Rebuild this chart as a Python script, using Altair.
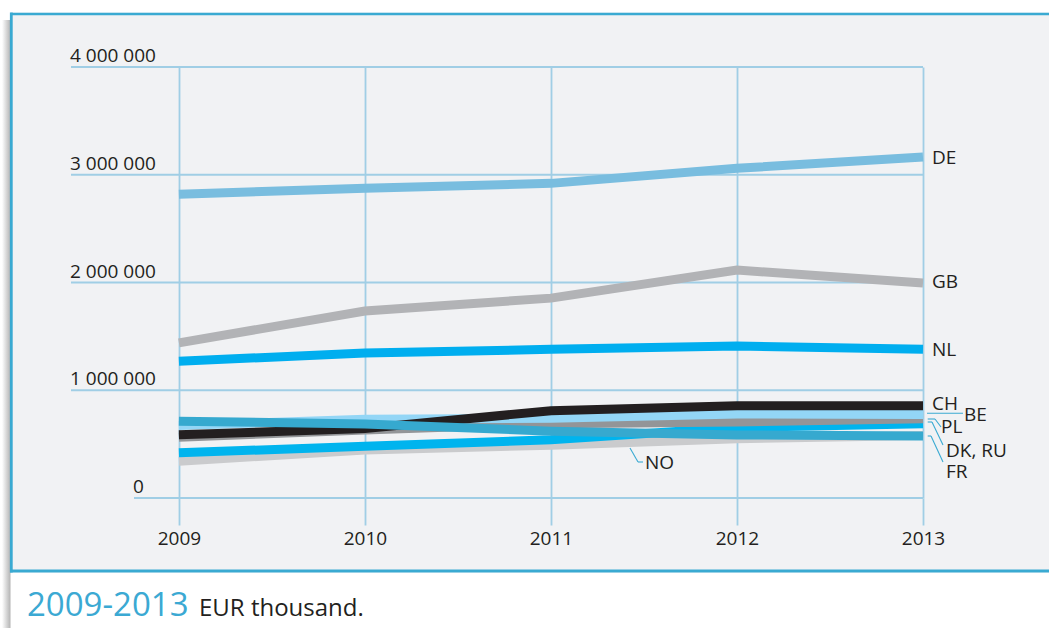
import altair as alt
import pandas as pd

# ---- data (EUR thousand) ----
years = [2009, 2010, 2011, 2012, 2013]

de = [2820000, 2875000, 2920000, 3060000, 3165000]
gb = [1440000, 1735000, 1855000, 2115000, 1995000]
nl = [1270000, 1345000, 1380000, 1410000, 1380000]
ch = [587000, 645000, 810000, 855000, 855000]
be = [673000, 730000, 740000, 780000, 775000]
pl = [564000, 630000, 690000, 705000, 735000]
dk_ru = [420000, 480000, 540000, 655000, 690000]
fr = [713000, 687000, 620000, 585000, 575000]
no = [342000, 445000, 490000, 550000, 580000]

# drawn back to front
series = ["NO", "DK, RU", "PL", "BE", "CH", "FR", "NL", "GB", "DE"]
series_values = [no, dk_ru, pl, be, ch, fr, nl, gb, de]
series_colors = ["#cacbcd", "#00b4ee", "#939598", "#93d6f6", "#231f20",
                 "#36a9cf", "#00aeef", "#b2b3b6", "#79bddf"]

y_ticks = [0, 1000000, 2000000, 3000000, 4000000]
y_tick_labels = ["0", "1 000 000", "2 000 000", "3 000 000", "4 000 000"]

# ---- styling ----
FONT = "Open Sans"
INK = "#231f20"
GRID = "#a0cee5"
FRAME = "#3aaad2"
PANEL = "#f1f2f4"
W, H = 852, 431
PAD = {"left": 71, "top": 67, "right": 126, "bottom": 130}

rows = []
for name, vals in zip(series, series_values):
    for yr, v in zip(years, vals):
        rows.append({"series": name, "year": yr, "value": v})
df = pd.DataFrame(rows)
ticks_df = pd.DataFrame({"value": y_ticks, "label": y_tick_labels})
one = pd.DataFrame({"k": [0]})

x_axis = alt.Axis(values=years, format="d", title=None, grid=True,
                  gridColor=GRID, gridWidth=1.8, domain=False, ticks=True,
                  tickSize=27, tickColor=GRID, tickWidth=1.8,
                  labelFont=FONT, labelFontSize=19, labelColor=INK,
                  labelPadding=4, labelFlush=False, labelOverlap=False)
x_enc = alt.X("year:Q", scale=alt.Scale(domain=[2008.42, 2013], nice=False, zero=False),
              axis=x_axis)
y_enc = alt.Y("value:Q", scale=alt.Scale(domain=[0, 4000000], nice=False), axis=None)


def box(x1, x2, y1, y2, fill):
    return alt.Chart(one).mark_rect(fill=fill).encode(
        x=alt.value(x1), x2=alt.value(x2), y=alt.value(y1), y2=alt.value(y2))


def seg(x1, y1, x2, y2, color=FRAME, width=1.2):
    # pixel offsets relative to the plot origin
    return alt.Chart(one).mark_rule(color=color, strokeWidth=width).encode(
        x=alt.value(x1), x2=alt.value(x2), y=alt.value(y1), y2=alt.value(y2))


layers = []

# white page around the framed panel, with a soft shadow on the left
right_edge = W + PAD["right"]
layers.append(box(-PAD["left"], right_edge, -PAD["top"], -54.4, "white"))
layers.append(box(-PAD["left"], -61, -PAD["top"], H + PAD["bottom"], "white"))
layers.append(box(-61, right_edge, 505.5, H + PAD["bottom"], "white"))
shadow = alt.LinearGradient(
    gradient="linear", x1=0, x2=1, y1=0, y2=0,
    stops=[alt.GradientStop(offset=0, color="#ffffff"),
           alt.GradientStop(offset=1, color="#b3b3b3")])
layers.append(alt.Chart(one).mark_rect(fill=shadow).encode(
    x=alt.value(-69), x2=alt.value(-60.5), y=alt.value(-47), y2=alt.value(H + PAD["bottom"])))
layers.append(seg(-59.7, -53, right_edge, -53, FRAME, 2.7))
layers.append(seg(-59.7, -54.4, -59.7, 505.5, FRAME, 2.8))
layers.append(seg(-61, 504, right_edge, 504, FRAME, 3))

# horizontal gridlines and their labels
layers.append(alt.Chart(ticks_df).transform_filter("datum.value > 0").mark_rule(
    color=GRID, strokeWidth=1.8).encode(y=y_enc, x=alt.value(0), x2=alt.value(W)))
layers.append(alt.Chart(ticks_df).transform_filter("datum.value == 0").mark_rule(
    color=GRID, strokeWidth=1.8).encode(y=y_enc, x=alt.value(63), x2=alt.value(W)))
tick_text = dict(align="left", baseline="alphabetic", dy=-5, font=FONT,
                 fontSize=19, color=INK)
layers.append(alt.Chart(ticks_df).transform_filter("datum.value > 0").mark_text(
    **tick_text).encode(y=y_enc, x=alt.value(-1), text="label:N"))
layers.append(alt.Chart(ticks_df).transform_filter("datum.value == 0").mark_text(
    **tick_text).encode(y=y_enc, x=alt.value(62), text="label:N"))

# country lines
for name, color in zip(series, series_colors):
    layers.append(alt.Chart(df).transform_filter(alt.datum.series == name).mark_line(
        color=color, strokeWidth=9, strokeCap="butt", strokeJoin="miter"
    ).encode(x=x_enc, y=y_enc))

# country labels (anchor year, dx, dy)
label_spec = [
    ("DE", 2013, 9, 1),
    ("GB", 2013, 9, -1),
    ("NL", 2013, 9, 1),
    ("CH", 2013, 9, -2),
    ("BE", 2013, 41, 1),
    ("PL", 2013, 18, 8.5),
    ("DK, RU", 2013, 23, 27),
    ("FR", 2013, 23, 36),
    ("NO", 2011, 94, 18),
]
for name, yr, dx, dy in label_spec:
    layers.append(alt.Chart(df).transform_filter(
        (alt.datum.series == name) & (alt.datum.year == yr)
    ).mark_text(align="left", baseline="middle", dx=dx, dy=dy, font=FONT,
                fontSize=19, color=INK).encode(x=x_enc, y=y_enc, text="series:N"))

# leader lines for the crowded labels
ox, oy = PAD["left"], PAD["top"]
leaders = [
    (927, 413.3, 963, 413.3),
    (927.7, 419, 935, 419), (935, 419, 941, 427),
    (927.7, 422, 932, 422), (932, 422, 943, 445),
    (927.7, 436, 931, 436), (931, 436, 943, 462),
    (630, 448, 638, 462), (638, 462, 643, 462),
]
for x1, y1, x2, y2 in leaders:
    layers.append(seg(x1 - ox, y1 - oy, x2 - ox, y2 - oy, FRAME, 1.1))

# caption under the panel
layers.append(alt.Chart(one).mark_text(
    align="left", baseline="alphabetic", font=FONT, fontSize=33, color="#3ba9d3"
).encode(x=alt.value(-44), y=alt.value(549), text=alt.value("2009-2013")))
layers.append(alt.Chart(one).mark_text(
    align="left", baseline="alphabetic", font=FONT, fontSize=24, color=INK
).encode(x=alt.value(128), y=alt.value(549), text=alt.value("EUR thousand.")))

chart = alt.layer(*layers).properties(
    width=W, height=H, padding=PAD,
    autosize=alt.AutoSizeParams(type="none"),
    background=PANEL,
).configure_view(stroke=None)

chart.save("out.html", embed_options={"renderer": "svg", "actions": False})
